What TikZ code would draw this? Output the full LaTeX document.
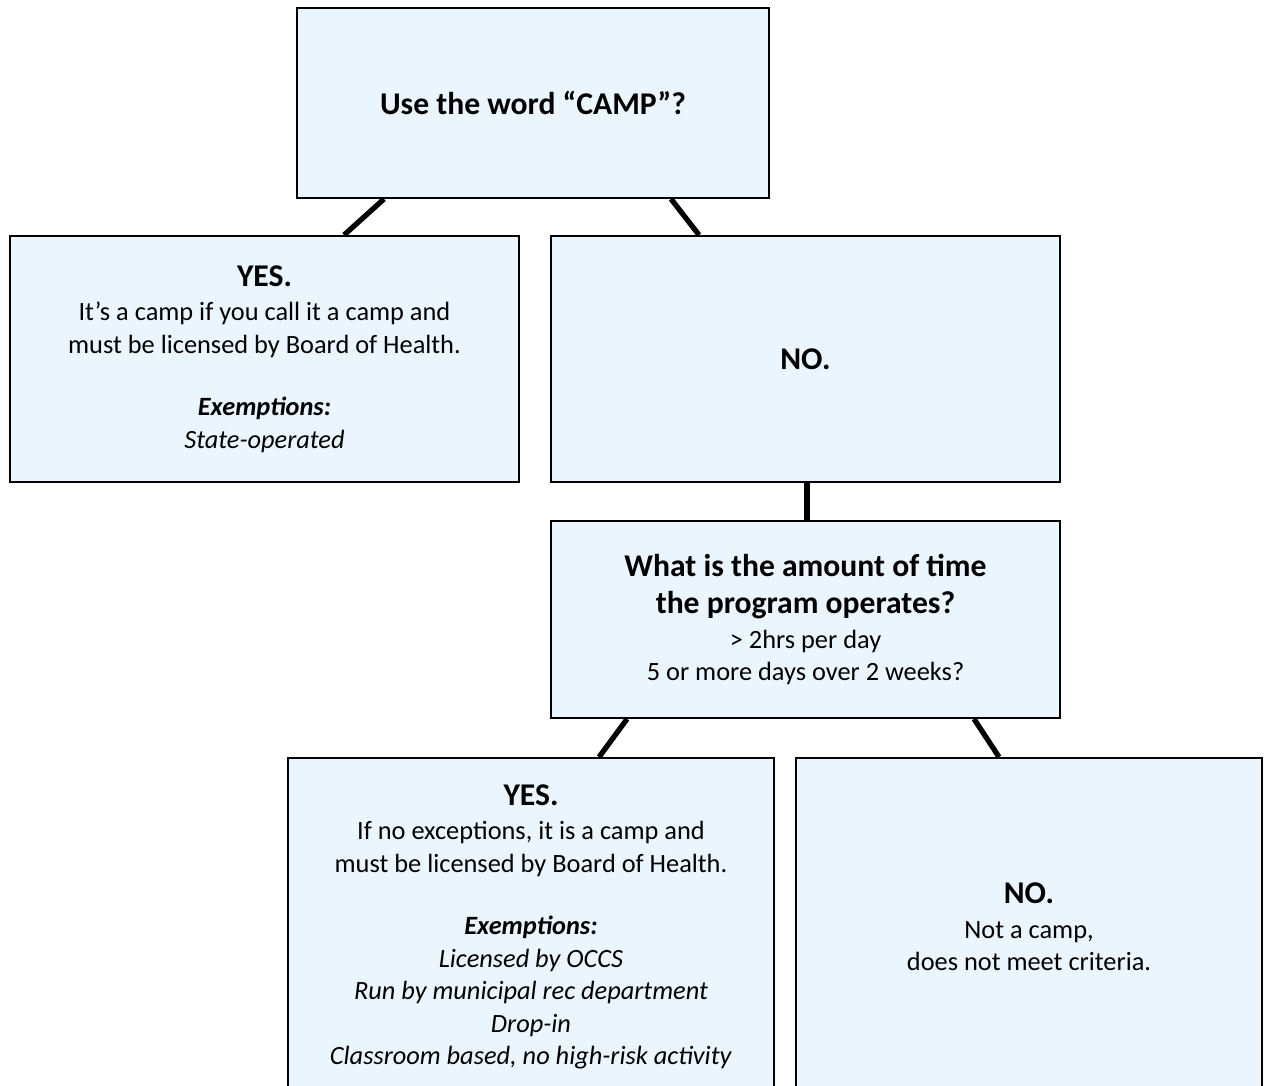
\documentclass[tikz,border=0pt]{standalone}
\usepackage{fontspec}
\setmainfont{Carlito}
\usetikzlibrary{backgrounds}
\definecolor{paleblue}{RGB}{235,245,253}
\newcommand\hd[1]{{\fontsize{18}{21.6}\selectfont\bfseries #1}}
\newcommand\ex[1]{\textbf{\textit{#1}}}
\tikzset{
  qbox/.style={draw=black,line width=1.1pt,fill=paleblue,align=center,inner sep=0pt,
    font=\fontsize{15}{18.5}\selectfont},
  link/.style={draw=black,line width=3pt},
}
\begin{document}
\begin{tikzpicture}
  \useasboundingbox (0,0) rectangle (25.36,-21.72);
  % question boxes
  \node[qbox,minimum width=9.44cm,minimum height=3.80cm] (word) at (10.66,-2.06) {\hd{Use the word “CAMP”?}};
  \node[qbox,minimum width=10.18cm,minimum height=4.92cm] (callyes) at (5.29,-7.18)
    {\hd{YES.}\\[1pt] It’s a camp if you call it a camp and\\ must be licensed by Board of Health.\\[17pt]
     \ex{Exemptions:}\\ \textit{State-operated}};
  \node[qbox,minimum width=10.18cm,minimum height=4.92cm] (callno) at (16.11,-7.18) {\hd{NO.}};
  \node[qbox,minimum width=10.18cm,minimum height=3.94cm] (hours) at (16.11,-12.39)
    {\hd{What is the amount of time}\\[3pt] \hd{the program operates?}\\[1pt] > 2hrs per day\\ 5 or more days over 2 weeks?};
  \node[qbox,minimum width=9.72cm,minimum height=6.76cm] (hoursyes) at (10.62,-18.54)
    {\hd{YES.}\\[1pt] If no exceptions, it is a camp and\\ must be licensed by Board of Health.\\[17pt]
     \ex{Exemptions:}\\ \textit{Licensed by OCCS}\\ \textit{Run by municipal rec department}\\
     \textit{Drop-in}\\ \textit{Classroom based, no high-risk activity}};
  \node[qbox,minimum width=9.32cm,minimum height=6.76cm] (hoursno) at (20.58,-18.54)
    {\hd{NO.}\\[1pt] Not a camp,\\ does not meet criteria.};
  % connectors
  \begin{scope}[on background layer]
    \draw[link] ([xshift=1.76cm]word.south west) -- ([xshift=6.7cm]callyes.north west);
    \draw[link] ([xshift=7.5cm]word.south west) -- ([xshift=2.98cm]callno.north west);
    \draw[link] ([xshift=5.14cm]callno.south west) -- ([xshift=5.14cm]hours.north west);
    \draw[link] ([xshift=1.54cm]hours.south west) -- ([xshift=6.24cm]hoursyes.north west);
    \draw[link] ([xshift=8.48cm]hours.south west) -- ([xshift=4.08cm]hoursno.north west);
  \end{scope}
\end{tikzpicture}
\end{document}
